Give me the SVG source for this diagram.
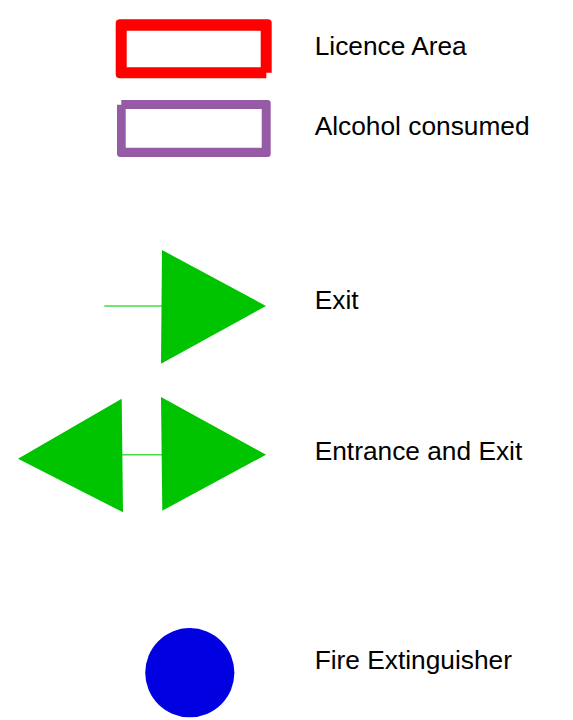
<svg xmlns="http://www.w3.org/2000/svg" width="573" height="720" viewBox="0 0 573 720">
<style>
text{font-family:"Liberation Sans",Arial,sans-serif;font-size:26.3px;fill:#000}
.g{fill:#00c400}
.l{stroke:#45dd45;stroke-width:1.4;fill:none}
</style>
<rect width="573" height="720" fill="#fff"/>
<g id="connectors">
<path class="l" d="M104.300 306H162"/>
<path class="l" d="M122 454.800H162"/>
</g>
<g id="licence-area">
<path fill="#ff0000" fill-rule="evenodd" d="M120 19.300H268Q271.700 19.300 271.700 23V72.700H266.300V78.300H120Q115.700 78.300 115.700 74V23.500Q115.700 19.300 120 19.300ZM126.700 30.700V67.300H260.700V30.700Z"/>
<text x="314.700" y="55">Licence Area</text>
</g>
<g id="alcohol-consumed">
<path fill="#965ba5" fill-rule="evenodd" d="M121.300 100H267.500Q270.700 100 270.700 103V154Q270.700 157 267.500 157H120.500Q117 157 117 153.500V104.700H121.300ZM125.700 109V147.700H261.700V109Z"/>
<text x="314.700" y="135">Alcohol consumed</text>
</g>
<g id="exit">
<path class="g" d="M162 250L266 306L161 363.700Z"/>
<text x="314.700" y="309">Exit</text>
</g>
<g id="entrance-exit">
<path class="g" d="M121.700 398.700L18 458.700L123 512.300Z"/>
<path class="g" d="M161 397L266 454.700L162.300 510.700Z"/>
<text x="314.700" y="460">Entrance and Exit</text>
</g>
<g id="fire-extinguisher">
<circle cx="189.800" cy="672.700" r="44.600" fill="#0000e0"/>
<text x="314.700" y="669">Fire Extinguisher</text>
</g>
</svg>
